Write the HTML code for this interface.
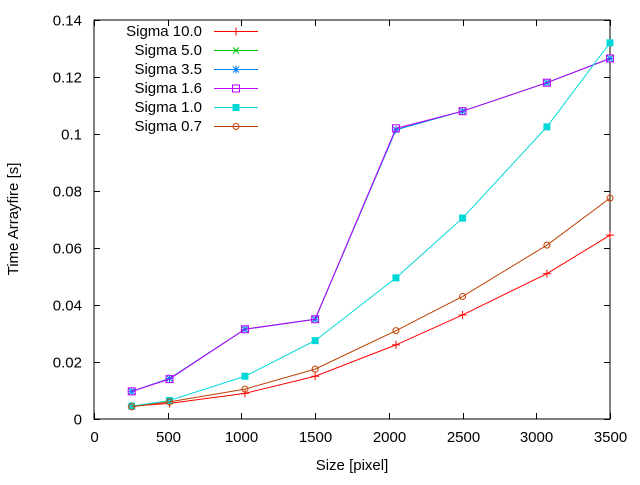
<!DOCTYPE html>
<html><head><meta charset="utf-8"><style>
body{margin:0;background:#fff}
svg text{font-family:"Liberation Sans",sans-serif;font-size:15px;fill:#000}
</style></head><body>
<svg width="640" height="480" xmlns="http://www.w3.org/2000/svg">
<g id="axes"></g><g id="series"></g><g id="legend"></g>
<text x="352" y="470" text-anchor="middle">Size [pixel]</text>
<text transform="translate(18,219) rotate(-90)" text-anchor="middle">Time Arrayfire [s]</text>
</svg>
<script>
const xs = [256, 512, 1024, 1500, 2048, 2500, 3072, 3500];
const seriesNames = ["Sigma 10.0","Sigma 5.0","Sigma 3.5","Sigma 1.6","Sigma 1.0","Sigma 0.7"];
const s10 = [0.0045,0.0055,0.009,0.015,0.026,0.0365,0.051,0.0645];
const s50 = [0.0097,0.0142,0.0315,0.035,0.1015,0.108,0.118,0.1265];
const s35 = [0.0097,0.0142,0.0315,0.035,0.1015,0.108,0.118,0.1265];
const s16 = [0.0097,0.014,0.0315,0.035,0.102,0.108,0.118,0.1265];
const s10b = [0.0045,0.0065,0.015,0.0275,0.0495,0.0705,0.1025,0.132];
const s07 = [0.0043,0.006,0.0105,0.0175,0.031,0.043,0.061,0.0775];
const xTicks = [0,500,1000,1500,2000,2500,3000,3500];
const yTicks = [0,0.02,0.04,0.06,0.08,0.1,0.12,0.14];
const yTickLabels = ["0","0.02","0.04","0.06","0.08","0.1","0.12","0.14"];
const colors = ["#ff0000","#00c000","#0080ff","#c000ff","#00d8d8","#c04000"];
const markers = ["plus","cross","star","sq","fsq","circ"];
const allData = [s10,s50,s35,s16,s10b,s07];
const X0=94,X1=610,Y0=419,Y1=20;
const sx=v=>X0+(v/3500)*(X1-X0);
const sy=v=>Y0-(v/0.14)*(Y0-Y1);
const NS="http://www.w3.org/2000/svg";
function mk(t,a,p){const e=document.createElementNS(NS,t);for(const k in a)e.setAttribute(k,a[k]);p.appendChild(e);return e;}
const ax=document.getElementById('axes');
const frame=mk('rect',{x:X0,y:Y1,width:X1-X0,height:Y0-Y1,fill:'none',stroke:'#000','stroke-width':1},ax);


xTicks.forEach(v=>{const x=Math.round(sx(v))+0.5;
 mk('line',{x1:x,x2:x,y1:Y0,y2:Y0-6,stroke:'#000'},ax);mk('line',{x1:x,x2:x,y1:Y1,y2:Y1+6,stroke:'#000'},ax);
 const t=mk('text',{x:x,y:442,'text-anchor':'middle'},ax);t.textContent=v;
 
 });
yTicks.forEach((v,i)=>{const y=Math.round(sy(v))+0.5;
 mk('line',{x1:X0,x2:X0+6,y1:y,y2:y,stroke:'#000'},ax);mk('line',{x1:X1,x2:X1-6,y1:y,y2:y,stroke:'#000'},ax);
 const t=mk('text',{x:82,y:y+5,'text-anchor':'end'},ax);t.textContent=yTickLabels[i];
 
 });
function marker(g,type,x,y,c){
 const a={stroke:c,'stroke-width':1,fill:'none'};
 if(type==='plus'){mk('path',Object.assign({d:`M${x-4} ${y}H${x+4}M${x} ${y-4}V${y+4}`},a),g);}
 else if(type==='cross'){mk('path',Object.assign({d:`M${x-3} ${y-3}L${x+3} ${y+3}M${x-3} ${y+3}L${x+3} ${y-3}`},a),g);}
 else if(type==='star'){mk('path',Object.assign({d:`M${x-4} ${y}H${x+4}M${x} ${y-4}V${y+4}M${x-3} ${y-3}L${x+3} ${y+3}M${x-3} ${y+3}L${x+3} ${y-3}`},a),g);}
 else if(type==='sq'){mk('rect',Object.assign({x:x-3.5,y:y-3.5,width:7,height:7},a),g);}
 else if(type==='fsq'){mk('rect',{x:x-3.5,y:y-3.5,width:7,height:7,fill:c},g);}
 else {mk('circle',Object.assign({cx:x,cy:y,r:3},a),g);}
}
const sg=document.getElementById('series');
allData.forEach((d,i)=>{
 const g=mk('g',{},sg);
 
 
 mk('polyline',{points:d.map((v,j)=>sx(xs[j])+','+sy(v)).join(' '),fill:'none',stroke:colors[i],'stroke-width':1},g);
 d.forEach((v,j)=>marker(g,markers[i],sx(xs[j]),sy(v),colors[i]));
});
const lg=document.getElementById('legend');
seriesNames.forEach((n,i)=>{
 const y=31+i*19;
 const g=mk('g',{},lg);
 
 
 const t=mk('text',{x:202,y:y+5,'text-anchor':'end'},g);t.textContent=n;
 mk('line',{x1:214,x2:258,y1:y+0.5,y2:y+0.5,stroke:colors[i]},g);
 marker(g,markers[i],236,y+0.5,colors[i]);
});
</script>
</body></html>
